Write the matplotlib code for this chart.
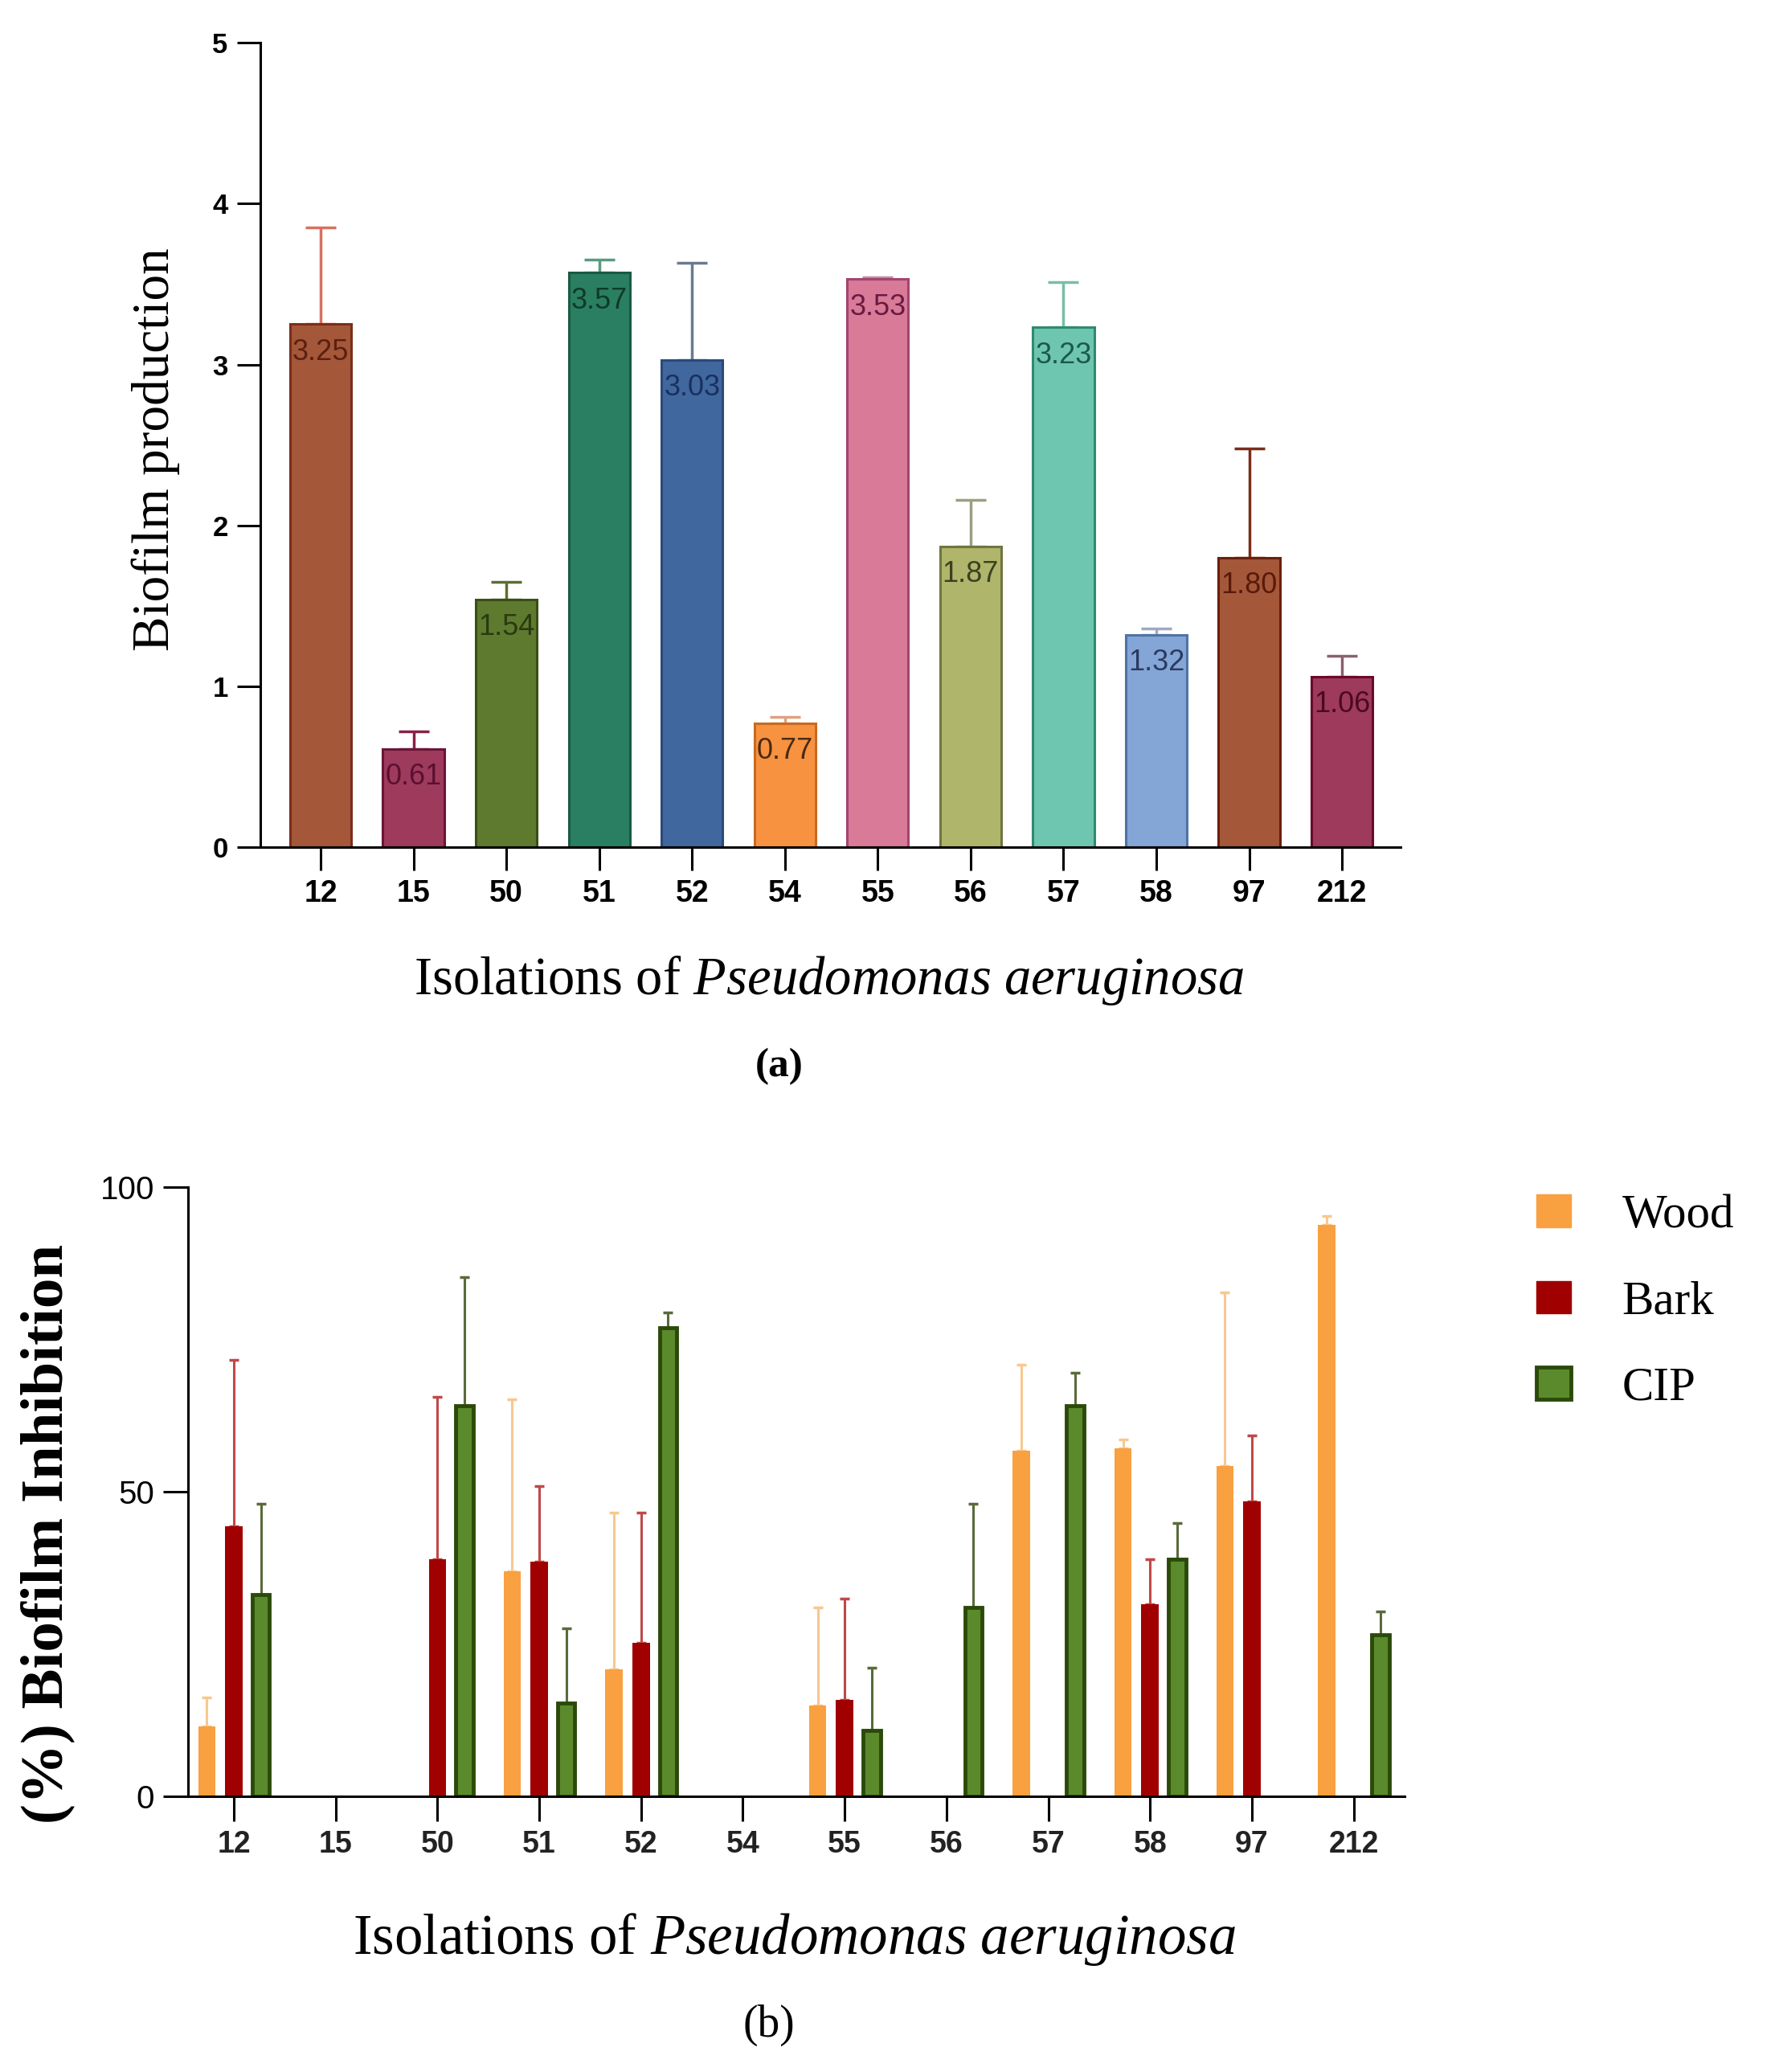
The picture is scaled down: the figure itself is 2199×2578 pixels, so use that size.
import numpy as np
import matplotlib.pyplot as plt
from matplotlib.patches import Patch

plt.rcParams['mathtext.fontset'] = 'custom'
plt.rcParams['mathtext.rm'] = 'Liberation Serif'
plt.rcParams['mathtext.it'] = 'Liberation Serif:italic'

isolates = ["12", "15", "50", "51", "52", "54", "55", "56", "57", "58", "97", "212"]

# (a) biofilm production
production = [3.25, 0.61, 1.54, 3.57, 3.03, 0.77, 3.53, 1.87, 3.23, 1.32, 1.80, 1.06]
production_err = [0.60, 0.11, 0.11, 0.08, 0.60, 0.04, 0.01, 0.29, 0.28, 0.04, 0.68, 0.13]

# (b) % biofilm inhibition
wood = [11.5, 0, 0, 37.0, 20.8, 0, 14.9, 0, 56.7, 57.2, 54.3, 93.8]
wood_err = [4.7, 0, 0, 28.2, 25.8, 0, 16.1, 0, 14.2, 1.4, 28.4, 1.5]
bark = [44.4, 0, 38.9, 38.5, 25.2, 0, 15.8, 0, 0, 31.5, 48.4, 0]
bark_err = [27.3, 0, 26.7, 12.5, 21.4, 0, 16.7, 0, 0, 7.4, 10.8, 0]
cip = [33.1, 0, 64.2, 15.3, 76.9, 0, 10.8, 31.0, 64.2, 38.9, 0, 26.6]
cip_err = [15.0, 0, 21.0, 12.3, 2.6, 0, 10.3, 17.1, 5.4, 6.0, 0, 3.8]

fills = ["#A5573A", "#9E3A5C", "#5E7A2E", "#2A7F62", "#40679E", "#F79240",
         "#D87A98", "#AFB56A", "#6FC6B0", "#84A6D6", "#A5573A", "#9E3A5C"]
edges = ["#7A2E1A", "#6B1538", "#3A4F15", "#1A5A40", "#2A4A7A", "#C86A20",
         "#A24470", "#6F7540", "#2F8A70", "#4F73A6", "#6A1F0A", "#6A0A2A"]
err_cols = ["#D87060", "#8A2048", "#5A7030", "#5A9A80", "#6A7A90", "#E0A080",
            "#C090A0", "#9AA080", "#7ABCA8", "#A0A8C0", "#7A2E1A", "#8A6070"]
txt_cols = ["#5A2010", "#5A1030", "#2A3A10", "#103A28", "#1A3060", "#4A2A10",
            "#6A1A40", "#3A4020", "#1A5A48", "#2A3A60", "#5A1A0A", "#4A0A20"]

fig = plt.figure(figsize=(21.99, 25.78), dpi=100)

# ---------- (a) ----------
ax1 = fig.add_axes([0.1473, 0.5911, 0.6453, 0.3883])
x = np.arange(len(isolates))
ax1.bar(x, production, width=0.66, color=fills, edgecolor=edges, linewidth=2.2, zorder=2)
for i in range(len(isolates)):
    ax1.errorbar(x[i], production[i], yerr=[[0], [production_err[i]]], fmt="none",
                 ecolor=err_cols[i], elinewidth=2.5, capsize=14, capthick=2.5, zorder=1)
    ax1.annotate(f"{production[i]:.2f}", (x[i], production[i]), xytext=(0, -25),
                 textcoords="offset points", ha="center", va="center",
                 fontsize=26, color=txt_cols[i], family="Liberation Sans", zorder=3)

ax1.set_xlim(-0.65, 11.63)
ax1.set_ylim(0, 5)
ax1.set_xticks(x)
ax1.set_xticklabels(isolates, fontsize=27, fontweight="bold", family="Liberation Sans")
ax1.set_yticks(range(6))
ax1.set_yticklabels([str(v) for v in range(6)], fontsize=25, fontweight="bold",
                    family="Liberation Sans")
ax1.tick_params(length=21, width=2.2, pad=8)
for s in ["top", "right"]:
    ax1.spines[s].set_visible(False)
for s in ["left", "bottom"]:
    ax1.spines[s].set_linewidth(2.2)

fig.text(0.0882, 0.783, "Biofilm production", rotation=90, ha="center", va="center",
         fontsize=47, family="Liberation Serif")
fig.text(0.469, 0.5267, r"Isolations of $\mathit{Pseudomonas\ aeruginosa}$",
         ha="center", va="center", fontsize=48, family="Liberation Serif")
fig.text(0.4411, 0.4853, "(a)", ha="center", va="center", fontsize=37, fontweight="bold",
         family="Liberation Serif")

# ---------- (b) ----------
ax2 = fig.add_axes([0.1064, 0.1330, 0.6885, 0.2940])
w = 0.17
off = 0.265
wood_m = np.array(wood) > 0
bark_m = np.array(bark) > 0
cip_m = np.array(cip) > 0

ax2.bar(x - off, wood, width=w, color="#F9A040", zorder=2, label="Wood")
ax2.bar(x, bark, width=w, color="#A00000", zorder=2, label="Bark")
ax2.bar(x + off, cip, width=w, color="#5B8A2D", edgecolor="#2B4A0A",
        linewidth=np.where(cip_m, 3.5, 0), zorder=2, label="CIP")

ax2.errorbar((x - off)[wood_m], np.array(wood)[wood_m],
             yerr=[np.zeros(wood_m.sum()), np.array(wood_err)[wood_m]], fmt="none",
             ecolor="#F7C890", elinewidth=2.2, capsize=4, capthick=2.5, zorder=1)
ax2.errorbar(x[bark_m], np.array(bark)[bark_m],
             yerr=[np.zeros(bark_m.sum()), np.array(bark_err)[bark_m]], fmt="none",
             ecolor="#C04848", elinewidth=2.2, capsize=4, capthick=2.5, zorder=1)
ax2.errorbar((x + off)[cip_m], np.array(cip)[cip_m],
             yerr=[np.zeros(cip_m.sum()), np.array(cip_err)[cip_m]], fmt="none",
             ecolor="#5A6A3A", elinewidth=2.2, capsize=4, capthick=2.5, zorder=1)

ax2.set_xlim(-0.45, 11.5)
ax2.set_ylim(0, 100)
ax2.set_xticks(x)
ax2.set_xticklabels(isolates, fontsize=27, fontweight="bold", family="Liberation Sans",
                    color="#222222")
ax2.set_yticks([0, 50, 100])
ax2.set_yticklabels(["0", "50", "100"], fontsize=29, family="Liberation Sans")
ax2.tick_params(length=22, width=2.2, pad=8)
for s in ["top", "right"]:
    ax2.spines[s].set_visible(False)
for s in ["left", "bottom"]:
    ax2.spines[s].set_linewidth(2.2)

ax2.legend(handles=[Patch(color="#F9A040"), Patch(color="#A00000"),
                    Patch(facecolor="#5B8A2D", edgecolor="#2B4A0A", linewidth=3.5)],
           labels=["Wood", "Bark", "CIP"], loc="upper left", bbox_to_anchor=(1.073, 1.058),
           frameon=False, prop={"family": "Liberation Serif", "size": 42.5},
           handlelength=0.73, handleheight=0.68, handletextpad=1.08, labelspacing=0.9)

fig.text(0.0268, 0.2599, "(%) Biofilm Inhibition", rotation=90, ha="center", va="center",
         fontsize=54, fontweight="bold", family="Liberation Serif")
fig.text(0.4497, 0.0641, r"Isolations of $\mathit{Pseudomonas\ aeruginosa}$",
         ha="center", va="center", fontsize=51, family="Liberation Serif")
fig.text(0.4352, 0.0225, "(b)", ha="center", va="center", fontsize=40, family="Liberation Serif")

fig.savefig("out.png", dpi=100)
